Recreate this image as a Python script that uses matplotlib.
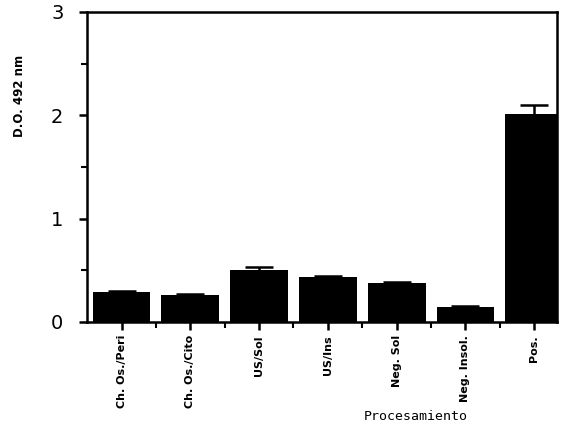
import matplotlib.pyplot as plt
import numpy as np

# data
categories = ['Ch. Os./Peri', 'Ch. Os./Cito', 'US/Sol', 'US/Ins', 'Neg. Sol', 'Neg. Insol.', 'Pos.']
values = [0.29, 0.26, 0.50, 0.43, 0.38, 0.14, 2.01]
errors = [0.01, 0.01, 0.03, 0.01, 0.01, 0.01, 0.09]

plt.rcParams['font.family'] = ['DejaVu Sans']

fig = plt.figure(figsize=(5.62, 4.28), dpi=100)
ax = fig.add_axes([0.155, 0.248, 0.836, 0.724])

x = np.arange(len(categories))
ax.bar(x, values, width=0.84, color='black', yerr=errors,
       error_kw=dict(ecolor='black', elinewidth=1.8, capsize=10, capthick=1.8))

ax.set_xlim(-0.5, 6.33)
ax.set_ylim(0, 3)
ax.set_yticks([0, 1, 2, 3])
ax.set_yticks([0.5, 1.5, 2.5], minor=True)
ax.set_yticklabels(['0', '1', '2', '3'], fontsize=14)
ax.set_xticks(x)
ax.set_xticks(x[:-1] + 0.5, minor=True)
ax.set_xticklabels(categories, rotation=90, fontsize=8, fontweight='bold')

for s in ax.spines.values():
    s.set_linewidth(1.8)
ax.tick_params(axis='both', which='major', width=1.8, length=6)
ax.tick_params(axis='y', which='major', pad=11)
ax.tick_params(axis='both', which='minor', width=1.5, length=4)

ax.set_ylabel('D.O. 492 nm', fontsize=8.5, fontweight='bold')
ax.yaxis.set_label_coords(-0.13, 0.73)
ax.set_xlabel('Procesamiento', fontsize=9.5, family='DejaVu Sans Mono')
ax.xaxis.set_label_coords(0.70, -0.285)

fig.savefig('out.png', dpi=100)
